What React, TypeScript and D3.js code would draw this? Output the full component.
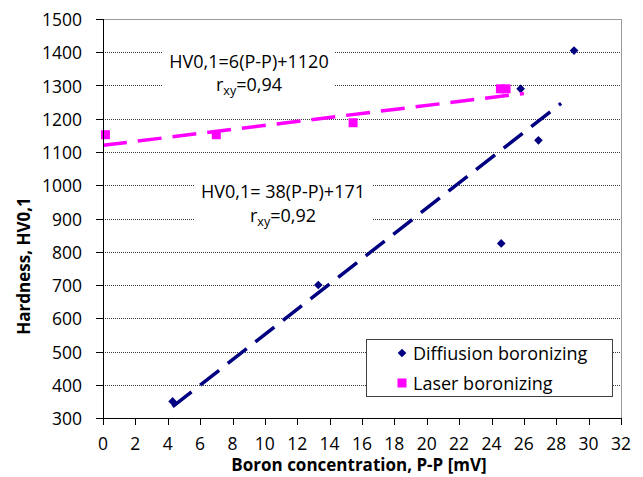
import React from "react";
import * as d3 from "d3";

// data
const diffusionX = [4.3, 13.3, 24.6, 25.8, 26.9, 29.1];
const diffusionY = [350, 700, 825, 1290, 1135, 1405];
const laserX = [0.15, 7.0, 15.45, 24.55, 24.9];
const laserY = [1152, 1152, 1188, 1290, 1290];

// trendlines: slope, intercept, x range
const laserTrend = { slope: 6, intercept: 1120, from: 0, to: 26 };
const diffusionTrend = { slope: 38, intercept: 171, from: 4.3, to: 28.3 };

const xTicks = d3.range(0, 33, 2);
const yTicks = d3.range(300, 1501, 100);

const W = 643, H = 477;
const left = 103, right = 621, top = 19, bottom = 418;
const NAVY = "#000080", PINK = "#ff00ff";
const FONT = "'Open Sans', sans-serif";

export default function App() {
  const x = d3.scaleLinear().domain([0, 32]).range([left, right]);
  const y = d3.scaleLinear().domain([300, 1500]).range([bottom, top]);

  const trendPath = (t: typeof laserTrend) =>
    d3.line<number>()
      .x(v => x(v))
      .y(v => y(t.slope * v + t.intercept))([t.from, t.to]) || "";

  const diamond = d3.symbol().type(d3.symbolDiamond2).size(48)();

  return (
    <svg width={W} height={H} style={{ position: "absolute", left: 0, top: 0, background: "#fff" }}
      fontFamily={FONT}>
      {/* gridlines */}
      {yTicks.filter(t => t > 300 && t < 1500).map(t => (
        <line key={"g" + t} x1={left} x2={right} y1={Math.round(y(t)) + 0.5} y2={Math.round(y(t)) + 0.5}
          stroke="#3a3a3a" strokeDasharray="1 1" />
      ))}
      {/* plot border */}
      <line x1={left} x2={right + 0.5} y1={top + 0.5} y2={top + 0.5} stroke="#9a9a9a" />
      <line x1={right + 0.5} x2={right + 0.5} y1={top} y2={bottom} stroke="#9a9a9a" />

      {/* equation boxes */}
      <rect x={162} y={40} width={173} height={62} fill="#fff" />
      <text x={249} y={68} textAnchor="middle" fontSize={18} fill="#000">HV0,1=6(P-P)+1120</text>
      <text x={249} y={91} textAnchor="middle" fontSize={18} fill="#000">
        r<tspan fontSize={12.5} dy={4}>xy</tspan><tspan dy={-4}>=0,94</tspan>
      </text>
      <rect x={194} y={170} width={179} height={64} fill="#fff" />
      <text x={283} y={198} textAnchor="middle" fontSize={18} fill="#000">HV0,1= 38(P-P)+171</text>
      <text x={283} y={222} textAnchor="middle" fontSize={18} fill="#000">
        r<tspan fontSize={12.5} dy={4}>xy</tspan><tspan dy={-4}>=0,92</tspan>
      </text>

      {/* markers */}
      {diffusionX.map((v, i) => (
        <path key={"d" + i} d={diamond} transform={`translate(${x(v)},${y(diffusionY[i])})`} fill={NAVY} />
      ))}
      {laserX.map((v, i) => (
        <rect key={"l" + i} x={x(v) - 4.5} y={y(laserY[i]) - 4.5} width={9} height={9} fill={PINK} />
      ))}

      {/* trendlines */}
      <path d={trendPath(laserTrend)} stroke={PINK} strokeWidth={3.5} fill="none" strokeDasharray="24 11" />
      <path d={trendPath(diffusionTrend)} stroke={NAVY} strokeWidth={3.5} fill="none" strokeDasharray="24 11" />

      {/* axes */}
      <line x1={left + 0.5} x2={left + 0.5} y1={top} y2={bottom + 0.5} stroke="#000" />
      <line x1={left} x2={right + 1} y1={bottom + 0.5} y2={bottom + 0.5} stroke="#000" />
      {yTicks.map(t => (
        <g key={"y" + t}>
          <line x1={left - 7} x2={left} y1={Math.round(y(t)) + 0.5} y2={Math.round(y(t)) + 0.5} stroke="#000" />
          <text x={82} y={y(t) + 7} textAnchor="end" fontSize={17.5} fill="#000">{t}</text>
        </g>
      ))}
      {xTicks.map(t => (
        <g key={"x" + t}>
          <line x1={Math.round(x(t)) + 0.5} x2={Math.round(x(t)) + 0.5} y1={bottom} y2={bottom + 7} stroke="#000" />
          <text x={x(t)} y={450} textAnchor="middle" fontSize={17.5} fill="#000">{t}</text>
        </g>
      ))}

      {/* axis titles */}
      <text transform="translate(30,266) rotate(-90)" textAnchor="middle" fontSize={17} fontWeight="bold"
        fill="#000">Hardness, HV0,1</text>
      <text x={359} y={471} textAnchor="middle" fontSize={17} fontWeight="bold" fill="#000">
        Boron concentration, P-P [mV]</text>

      {/* legend */}
      <rect x={366.5} y={339.5} width={246} height={57} fill="#fff" stroke="#404040" />
      <path d={diamond} transform="translate(402,353)" fill={NAVY} />
      <text x={413} y={360} fontSize={18} fill="#000">Diffiusion boronizing</text>
      <rect x={397.5} y={378.5} width={9} height={9} fill={PINK} />
      <text x={413} y={390} fontSize={18} fill="#000">Laser boronizing</text>
    </svg>
  );
}
